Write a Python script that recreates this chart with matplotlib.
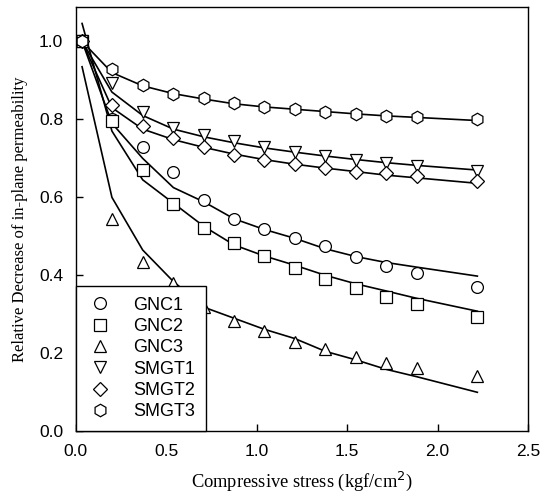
import matplotlib
matplotlib.use('Agg')
import matplotlib.pyplot as plt

# compressive stress (kgf/cm2) at which each sample was measured
stress = [0.035, 0.20, 0.37, 0.54, 0.71, 0.875, 1.04, 1.21, 1.38, 1.55, 1.715, 1.885, 2.22]

# measured relative permeability
gnc1 = [1.0, 0.80, 0.73, 0.664, 0.593, 0.544, 0.52, 0.497, 0.474, 0.446, 0.424, 0.407, 0.369]
gnc2 = [1.0, 0.796, 0.67, 0.582, 0.522, 0.484, 0.449, 0.418, 0.39, 0.367, 0.345, 0.326, 0.294]
gnc3 = [1.0, 0.544, 0.435, 0.38, 0.32, 0.283, 0.257, 0.23, 0.21, 0.191, 0.176, 0.162, 0.142]
smgt1 = [1.0, 0.894, 0.82, 0.778, 0.76, 0.744, 0.73, 0.717, 0.706, 0.696, 0.687, 0.681, 0.668]
smgt2 = [1.0, 0.837, 0.783, 0.751, 0.73, 0.709, 0.695, 0.685, 0.676, 0.666, 0.662, 0.655, 0.642]
smgt3 = [1.0, 0.929, 0.887, 0.866, 0.856, 0.841, 0.833, 0.827, 0.82, 0.815, 0.809, 0.805, 0.80]

# fitted curves, read at the same stresses
fit_gnc1 = [1.0, 0.79, 0.70, 0.625, 0.588, 0.545, 0.518, 0.495, 0.468, 0.448, 0.433, 0.421, 0.398]
fit_gnc2 = [1.046, 0.77, 0.645, 0.585, 0.525, 0.478, 0.45, 0.426, 0.40, 0.378, 0.36, 0.341, 0.308]
fit_gnc3 = [0.935, 0.60, 0.465, 0.384, 0.318, 0.29, 0.262, 0.238, 0.205, 0.183, 0.159, 0.14, 0.10]
fit_smgt1 = [1.0, 0.87, 0.81, 0.775, 0.755, 0.74, 0.727, 0.716, 0.706, 0.697, 0.689, 0.682, 0.670]
fit_smgt2 = [1.0, 0.83, 0.775, 0.748, 0.728, 0.711, 0.697, 0.685, 0.675, 0.666, 0.657, 0.65, 0.636]
fit_smgt3 = [1.0, 0.92, 0.886, 0.866, 0.852, 0.84, 0.832, 0.826, 0.82, 0.814, 0.809, 0.805, 0.797]

names = ['GNC1', 'GNC2', 'GNC3', 'SMGT1', 'SMGT2', 'SMGT3']
markers = ['o', 's', '^', 'v', 'D', 'h']
sizes = [8.5, 8, 9, 9, 7, 9]
measured = [gnc1, gnc2, gnc3, smgt1, smgt2, smgt3]
fitted = [fit_gnc1, fit_gnc2, fit_gnc3, fit_smgt1, fit_smgt2, fit_smgt3]

fig = plt.figure(figsize=(5.41, 4.95), dpi=100)
ax = fig.add_axes([0.14, 0.1287, 0.836, 0.857])

for f in fitted:
    ax.plot(stress, f, color='black', lw=1.2)
for y, m, s, n in zip(measured, markers, sizes, names):
    ax.plot(stress, y, ls='none', marker=m, ms=s, mfc='white', mec='black',
            mew=0.9, label=n)

ax.set_xlim(0, 2.5)
ax.set_ylim(0, 1.088)
ax.set_xticks([0.0, 0.5, 1.0, 1.5, 2.0, 2.5])
ax.set_yticks([0.0, 0.2, 0.4, 0.6, 0.8, 1.0])
ax.xaxis.set_major_formatter(matplotlib.ticker.FormatStrFormatter('%.1f'))
ax.yaxis.set_major_formatter(matplotlib.ticker.FormatStrFormatter('%.1f'))
ax.tick_params(direction='in', length=5, width=1, labelsize=12.5, pad=9,
               top=False, right=False)
for lab in ax.get_xticklabels() + ax.get_yticklabels():
    lab.set_family('Liberation Sans')
for sp in ax.spines.values():
    sp.set_linewidth(1)

ax.set_xlabel('Compressive stress (kgf/cm$^2$)', family='Liberation Serif',
              fontsize=13.3, labelpad=8)
ax.set_ylabel('Relative Decrease of in-plane permeability', family='Liberation Serif',
              fontsize=12, labelpad=8)

leg = ax.legend(loc='lower left', borderaxespad=0, frameon=True, fancybox=False,
                numpoints=1, handlelength=1.5, handletextpad=1.1, labelspacing=0.24,
                borderpad=0.6, prop={'family': 'Liberation Sans', 'size': 13})
leg.get_frame().set_edgecolor('black')
leg.get_frame().set_linewidth(1)
leg.get_frame().set_alpha(1)

fig.savefig('out.png', dpi=100)
